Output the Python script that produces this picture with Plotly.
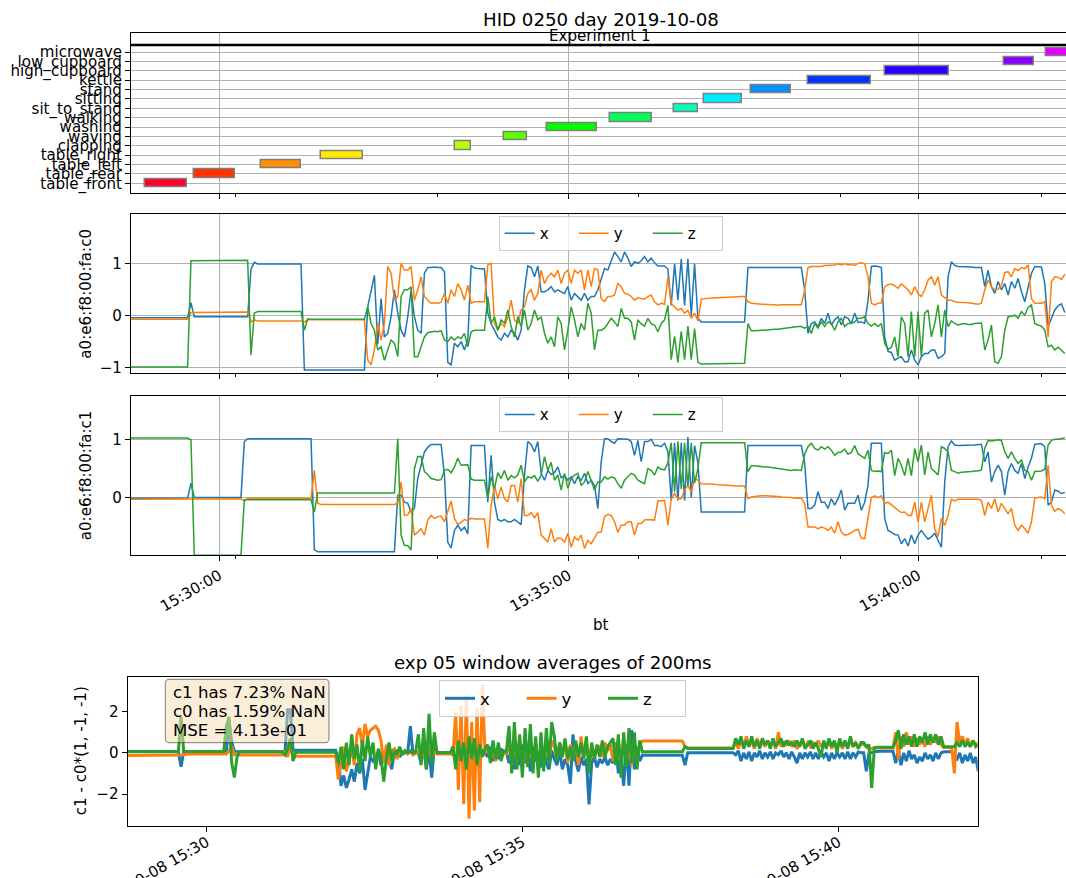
import pandas as pd
import plotly.graph_objects as go

FONT = "DejaVu Sans"
DAY = "2019-10-08"
W, H = 1066, 878

# ---------------- activity annotations (top panel) ----------------
activities = ["table_front", "table_rear", "table_left", "table_right", "clapping",
              "waving", "washing", "walking", "sit_to_stand", "sitting", "stand",
              "kettle", "high_cupboard", "low_cupboard", "microwave"]
act_start = ["15:28:56.0", "15:29:38.5", "15:30:36.0", "15:31:27.0", "15:33:22.0", "15:34:04.5",
             "15:34:41.0", "15:35:35.0", "15:36:30.0", "15:36:56.0", "15:37:36.0", "15:38:25.0",
             "15:39:31.0", "15:41:14.0", "15:41:50.0"]
act_end = ["15:29:32.0", "15:30:13.6", "15:31:10.0", "15:32:03.0", "15:33:36.0", "15:34:24.0",
           "15:35:24.0", "15:36:11.0", "15:36:51.0", "15:37:29.0", "15:38:11.0", "15:39:19.0",
           "15:40:26.0", "15:41:39.0", "15:42:20.0"]
act_colors = ["#ff0029", "#ff3200", "#ff8e00", "#ffea00", "#b8ff00", "#5cff00", "#00ff00",
              "#00ff5b", "#00ffb7", "#00ebff", "#0090ff", "#0033ff", "#2a00ff", "#8600ff",
              "#e200ff"]
exp_name = "Experiment 1"
exp_start = "15:28:44"
exp_end = "15:42:10"

# ---------------- accelerometer c0 / c1 (sampled every 2.863 s from 15:28:44.13) -------------
acc_t0 = "15:28:44.130"
acc_step = "2863ms"

c0_x = [
    -0.04, -0.04, -0.04, -0.04, -0.04, -0.04, -0.04, -0.04, -0.04, -0.04, -0.04, -0.04, -0.04, -0.04, -0.04, -0.04, -0.04, -0.04,
    0.25,
    -0.02, -0.02, -0.02, -0.02, -0.02, -0.02, -0.02, -0.02, -0.02, -0.02, -0.02, -0.02, -0.02, -0.02, -0.02, -0.02,
    -0.02, 0.9, 1.03, 1.0,
    1.0, 1.0, 1.0, 1.0, 1.0, 1.0, 1.0, 1.0, 1.0, 1.0, 1.0, 1.0, 1.0,
    -1.05,
    -1.05, -1.05, -1.05, -1.05, -1.05, -1.05, -1.05, -1.05, -1.05, -1.05, -1.05, -1.05, -1.05, -1.05, -1.05, -1.05, -1.05, -1.05,
    0.17, 0.5, 0.78, -0.55, 0.33, -0.41, -0.34, -0.02, 0.5, 0.05,
    -0.28, -0.41, -0.02, 0.5, -0.02, -0.28, -0.34, 0.82, 0.93, 0.93,
    0.94, 0.93, 0.93, 0.85, -0.9, -0.95, -0.53, -0.6, -0.5, -0.66,
    -0.47, 0.97, 0.92, 0.91, 0.9, 0.9, 0.05, -0.15, -0.28, -0.41,
    -0.47, -0.34, -0.41, -0.28, -0.34, -0.47, -0.28, 0.5, 0.96, 0.93,
    0.75, 0.96, 0.46, 0.46, 0.5, 0.56, 0.46, 0.5, 0.46, 0.43,
    0.56, 0.3, 0.43, 0.37, 0.3, 0.43, 0.3, 0.37, 0.37, 0.5,
    0.7, 0.91, 0.88, 1.07, 1.23, 1.14, 1.04, 1.23, 1.11, 0.95,
    1.04, 1.01, 1.06, 1.14, 1.04, 1.11, 1.02, 0.96, 0.96, 0.96,
    0.9, 0.2, 1.0, 0.3, 1.1, 0.2, 1.1, 0.0, 1.0, -0.05,
    -0.12, -0.12, -0.12, -0.12, -0.12, -0.12, -0.12, -0.12, -0.12, -0.12, -0.12, -0.12, -0.12, -0.12,
    0.93, 0.93, 0.93, 0.93, 0.93, 0.93, 0.93, 0.93, 0.93, 0.93, 0.93, 0.93, 0.93, 0.93, 0.93, 0.93, 0.93,
    0.5, -0.34, -0.15, -0.12, -0.21, -0.05, -0.15, 0.05, -0.18, -0.08,
    -0.02, -0.18, -0.02, -0.05, -0.15, 0.05, -0.13, -0.12, -0.15, 0.3,
    0.95, 0.96, 0.95, 0.93, -0.41, -0.69, -0.71, -0.86, -0.82, -0.79,
    -0.89, -0.89, -0.66, -0.86, -0.95, -0.79, -0.73, -0.73, -0.66, -0.66,
    -0.82, -0.79, -0.73, 0.75, 1.04, 0.97, 0.95, 0.95, 0.95, 0.94,
    0.94, 0.93, 0.93, 0.93, 0.56, 0.88, 0.56, 0.43, 0.66, 0.5,
    0.62, 0.4, 0.66, 0.53, 0.72, 0.46, 0.27, 0.53, 0.82, 0.95,
    0.95, 0.94, 0.62, -0.21, -0.05, 0.11, 0.19, 0.23, 0.06,
]
c0_y = [
    -0.07, -0.07, -0.07, -0.07, -0.07, -0.07, -0.07, -0.07, -0.07, -0.07, -0.07, -0.07, -0.07, -0.07, -0.07, -0.07, -0.07, -0.07,
    0.06,
    0.06, 0.06, 0.06, 0.06, 0.06, 0.06, 0.06, 0.06, 0.06, 0.06, 0.06, 0.06, 0.06, 0.06, 0.06, 0.06,
    0.07, -0.12, -0.08, -0.1,
    -0.1, -0.1, -0.1, -0.1, -0.1, -0.1, -0.1, -0.1, -0.1, -0.1, -0.1, -0.1, -0.1,
    -0.12,
    -0.08, -0.08, -0.08, -0.08, -0.08, -0.08, -0.08, -0.08, -0.08, -0.08, -0.08, -0.08, -0.08, -0.08, -0.08, -0.08, -0.08, -0.08,
    -0.85, -0.95, -0.66, -0.15, -0.47, -0.15, 0.95, 0.82, 0.3, 0.37,
    1.01, 0.88, 0.88, 0.95, 0.3, 0.5, 0.75, 0.37, 0.3, 0.24,
    0.25, 0.24, 0.26, 0.43, 0.24, 0.5, 0.37, 0.62, 0.5, 0.3,
    0.59, 0.24, 0.27, 0.27, 0.27, 0.27, 0.98, 1.01, -0.15, -0.28,
    -0.15, -0.21, -0.02, 0.3, -0.08, -0.15, 0.11, 0.17, 0.43, 0.5,
    0.3, 0.43, 0.88, 0.62, 0.75, 0.82, 0.75, 0.88, 0.62, 0.82,
    0.88, 0.62, 0.88, 0.82, 0.88, 0.5, 0.88, 0.56, 0.91, 0.88,
    0.33, 0.27, 0.37, 0.37, 0.4, 0.62, 0.56, 0.43, 0.42, 0.37,
    0.3, 0.35, 0.33, 0.32, 0.37, 0.4, 0.27, 0.21, 0.24, 0.22,
    0.75, 0.24, 0.17, 0.11, 0.14, 0.05, 0.1, -0.05, 0.05, -0.1,
    0.32, 0.33, 0.33, 0.34, 0.34, 0.35, 0.35, 0.35, 0.36, 0.36, 0.36, 0.37, 0.37, 0.37,
    0.27, 0.24, 0.23, 0.23, 0.22, 0.22, 0.21, 0.21, 0.21, 0.2, 0.21, 0.21, 0.21, 0.2, 0.21, 0.21, 0.21,
    0.5, 0.93, 0.95, 0.95, 0.96, 0.95, 0.97, 0.97, 0.98, 0.98,
    1.0, 0.98, 1.0, 0.98, 0.99, 0.97, 1.01, 1.02, 1.0, 0.75,
    0.24, 0.21, 0.24, 0.25, 0.56, 0.6, 0.61, 0.58, 0.53, 0.61,
    0.56, 0.5, 0.4, 0.56, 0.43, 0.37, 0.5, 0.69, 0.75, 0.59,
    0.75, 0.4, 0.35, 0.3, 0.3, 0.27, 0.26, 0.26, 0.25, 0.25,
    0.24, 0.23, 0.22, 0.24, 0.5, 0.69, 0.56, 0.5, 0.51, 0.59,
    0.83, 0.85, 0.75, 0.91, 0.87, 0.93, 0.91, 0.98, 0.33, 0.24,
    0.24, 0.24, 0.27, -0.41, 0.66, 0.75, 0.74, 0.7, 0.8,
]
c0_z = [
    -0.99, -0.99, -0.99, -0.99, -0.99, -0.99, -0.99, -0.99, -0.99, -0.99, -0.99, -0.99, -0.99, -0.99, -0.99, -0.99, -0.99, -0.99,
    1.06,
    1.06, 1.06, 1.06, 1.06, 1.06, 1.06, 1.06, 1.06, 1.06, 1.06, 1.06, 1.06, 1.06, 1.06, 1.06, 1.06,
    1.07, -0.76, 0.05, 0.08,
    0.08, 0.08, 0.08, 0.08, 0.08, 0.08, 0.08, 0.08, 0.08, 0.08, 0.08, 0.08, 0.08,
    -0.28,
    -0.06, -0.07, -0.07, -0.07, -0.07, -0.07, -0.07, -0.07, -0.07, -0.07, -0.07, -0.07, -0.07, -0.07, -0.07, -0.07, -0.07, -0.07,
    0.17, -0.15, -0.28, -0.66, -0.6, -0.86, -0.66, -0.47, -0.53, -0.79,
    0.37, 0.5, 0.5, 0.56, -0.79, -0.79, -0.6, -0.41, -0.33, -0.31,
    -0.3, -0.31, -0.29, -0.47, -0.5, -0.41, -0.47, -0.41, -0.44, -0.34,
    -0.6, -0.31, -0.28, -0.28, -0.28, -0.28, 0.37, -0.15, -0.02, -0.28,
    -0.08, -0.15, 0.11, -0.21, -0.41, -0.02, -0.21, 0.11, -0.28, -0.15,
    0.11, -0.08, -0.02, -0.34, -0.53, -0.41, -0.6, -0.02, -0.15, -0.66,
    -0.28, 0.17, -0.08, -0.41, -0.15, -0.28, 0.24, 0.05, -0.66, -0.28,
    -0.28, -0.24, -0.15, -0.05, -0.12, -0.21, 0.14, -0.05, -0.05, -0.12,
    -0.47, -0.08, -0.16, -0.2, -0.05, -0.16, -0.18, -0.31, -0.15, -0.08,
    0.2, -0.85, -0.4, -0.9, -0.3, -0.85, -0.2, -0.85, -0.25, -0.9,
    -0.93, -0.93, -0.93, -0.93, -0.93, -0.93, -0.93, -0.93, -0.93, -0.93, -0.93, -0.93, -0.93, -0.92,
    -0.15, -0.29, -0.29, -0.28, -0.28, -0.28, -0.27, -0.27, -0.26, -0.26, -0.25, -0.24, -0.23, -0.22, -0.22, -0.21, -0.21,
    -0.24, -0.21, -0.34, -0.15, -0.24, -0.12, -0.21, -0.12, -0.15, -0.28,
    -0.12, -0.05, -0.21, -0.15, -0.15, -0.12, -0.05, -0.05, -0.02, -0.15,
    -0.2, -0.15, -0.21, -0.15, -0.53, -0.65, -0.61, -0.41, -0.79, -0.02,
    -0.15, -0.79, 0.08, -0.79, 0.08, -0.79, 0.05, 0.11, -0.41, -0.15,
    0.21, -0.41, 0.11, -0.21, -0.1, -0.15, -0.18, -0.16, -0.15, -0.17,
    -0.17, -0.15, -0.15, -0.14, -0.66, -0.47, -0.18, -0.89, -0.92, -0.79,
    -0.28, -0.02, -0.01, 0.01, -0.05, 0.08, 0.01, 0.16, 0.21, -0.15,
    -0.18, -0.2, -0.28, -0.6, -0.57, -0.66, -0.61, -0.68, -0.73,
]

c1_x = [
    -0.01, -0.01, -0.01, -0.01, -0.01, -0.01, -0.01, -0.01, -0.01, -0.01, -0.01, -0.01, -0.01, -0.01, -0.01, -0.01, -0.01, -0.01,
    0.25,
    0.0, 0.0, 0.0, 0.0, 0.0, 0.0, 0.0, 0.0, 0.0, 0.0, 0.0, 0.0, 0.0, 0.0, 0.0,
    0.97, 1.02,
    1.02, 1.02, 1.02, 1.02, 1.02, 1.02, 1.02, 1.02, 1.02, 1.02, 1.02, 1.02, 1.02, 1.02, 1.02, 1.02, 1.02, 1.02, 1.02,
    -0.9, -0.94,
    -0.94, -0.94, -0.94, -0.94, -0.94, -0.94, -0.94, -0.94, -0.94, -0.94, -0.94, -0.94, -0.94, -0.94, -0.94, -0.94, -0.94, -0.94, -0.94, -0.94, -0.94, -0.94, -0.94,
    0.04, 0.04, -0.08, -0.1, -0.25, -0.19, 0.33, 0.59, 0.79, 0.87,
    0.92, 0.92, 0.92, 0.92, 0.39, -0.77, -0.87, -0.57, -0.48, -0.57,
    -0.51, -0.63, 0.9, 0.9, 0.9, 0.9, 0.9, -0.08, 0.73, -0.08,
    -0.38, -0.41, -0.38, -0.42, -0.42, -0.38, -0.43, -0.47, 0.39, 0.97,
    0.92, 0.79, 0.97, 0.42, 0.3, 0.47, 0.4, 0.43, 0.53, 0.34,
    0.38, 0.3, 0.36, 0.24, 0.36, 0.3, 0.42, 0.24, 0.3, 0.21,
    -0.19, 0.62, 1.02, 1.02, 0.97, 0.94, 1.02, 1.02, 1.02, 1.01,
    0.97, 0.73, 0.99, 0.62, 0.97, 0.97, 1.01, 0.9, 0.9, 0.88,
    0.94, 0.8, -0.05, 0.95, -0.05, 0.95, -0.05, 1.05, 0.0, 0.9,
    0.6,
    -0.25, -0.25, -0.25, -0.25, -0.25, -0.25, -0.25, -0.25, -0.25, -0.25, -0.25, -0.25, -0.25, -0.25,
    0.9, 0.9, 0.9, 0.9, 0.9, 0.9, 0.9, 0.9, 0.9, 0.9, 0.9, 0.9, 0.9, 0.9, 0.9, 0.9, 0.9,
    0.6, -0.19, -0.19, -0.13, 0.1, -0.08, -0.08, -0.19, -0.02, -0.13,
    -0.02, 0.13, -0.22, -0.1, -0.1, -0.1, 0.04, -0.22, -0.08, 0.21,
    0.94, 0.94, 0.94, 0.94, -0.36, -0.57, -0.6, -0.64, -0.65, -0.8,
    -0.71, -0.84, -0.65, -0.8, -0.65, -0.57, -0.65, -0.72, -0.68, -0.62,
    -0.74, -0.86, 0.27, 0.88, 0.98, 0.91, 0.9, 0.9, 0.9, 0.91,
    0.91, 0.91, 0.92, 0.92, 0.62, 0.79, 0.27, 0.45, 0.56, 0.45,
    0.04, 0.45, 0.59, 0.47, 0.42, 0.59, 0.33, 0.53, 0.68, 0.92,
    0.93, 0.93, 0.88, -0.13, -0.08, 0.13, 0.11, 0.07, 0.09,
]
c1_y = [
    -0.03, -0.03, -0.03, -0.03, -0.03, -0.03, -0.03, -0.03, -0.03, -0.03, -0.03, -0.03, -0.03, -0.03, -0.03, -0.03, -0.03, -0.03,
    -0.03,
    -0.02, -0.02, -0.02, -0.02, -0.02, -0.02, -0.02, -0.02, -0.02, -0.02, -0.02, -0.02, -0.02, -0.02, -0.02,
    -0.06, -0.01,
    -0.01, -0.01, -0.01, -0.01, -0.01, -0.01, -0.01, -0.01, -0.01, -0.01, -0.01, -0.01, -0.01, -0.01, -0.01, -0.01, -0.01, -0.01, -0.01,
    0.47, -0.1,
    -0.12, -0.12, -0.12, -0.12, -0.12, -0.12, -0.12, -0.12, -0.12, -0.12, -0.12, -0.12, -0.12, -0.12, -0.12, -0.12, -0.12, -0.12, -0.12, -0.12, -0.12, -0.12, -0.12,
    -0.1, 0.27, -0.31, -0.3, -0.19, -0.65, -0.6, -0.54, -0.65, -0.39,
    -0.31, -0.36, -0.33, -0.32, -0.42, -0.22, -0.06, -0.36, -0.47, -0.43,
    -0.38, -0.4, -0.36, -0.37, -0.37, -0.37, -0.37, -0.88, -0.13, 0.21,
    -0.02, 0.18, -0.02, -0.08, 0.21, 0.21, -0.08, 0.33, -0.31, -0.31,
    -0.26, -0.35, -0.26, -0.65, -0.71, -0.77, -0.54, -0.77, -0.7, -0.71,
    -0.77, -0.62, -0.86, -0.68, -0.74, -0.65, -0.88, -0.74, -0.8, -0.71,
    -0.6, -0.6, -0.33, -0.29, -0.31, -0.42, -0.6, -0.48, -0.48, -0.42,
    -0.42, -0.65, -0.45, -0.45, -0.39, -0.38, -0.38, -0.39, -0.06, -0.05,
    -0.05, -0.48, -0.03, 0.07, -0.02, -0.02, 0.13, 0.21, 0.1, 0.33,
    0.3,
    0.24, 0.24, 0.24, 0.23, 0.23, 0.22, 0.22, 0.22, 0.21, 0.21, 0.2, 0.2, 0.2, 0.2,
    -0.02, 0.01, 0.02, 0.03, 0.03, 0.03, 0.03, 0.03, 0.02, 0.02, 0.01, 0.01, 0.0, 0.0, -0.01, -0.01, -0.01,
    -0.1, -0.51, -0.51, -0.51, -0.54, -0.51, -0.53, -0.57, -0.51, -0.62,
    -0.42, -0.6, -0.65, -0.64, -0.61, -0.57, -0.55, -0.7, -0.71, -0.36,
    0.0, 0.03, 0.0, 0.03, -0.1, -0.08, -0.12, -0.17, -0.22, -0.26,
    -0.25, -0.31, -0.31, -0.08, -0.42, -0.08, -0.42, -0.19, 0.04, -0.54,
    -0.68, -0.36, -0.48, -0.31, -0.03, -0.06, -0.03, -0.03, -0.03, -0.02,
    -0.02, -0.03, -0.03, -0.05, -0.31, -0.08, -0.19, -0.02, -0.25, -0.1,
    -0.18, -0.28, -0.19, -0.48, -0.57, -0.48, -0.54, -0.62, -0.42, -0.01,
    0.0, 0.01, -0.02, 0.56, -0.13, -0.24, -0.19, -0.22, -0.28,
]
c1_z = [
    1.03, 1.03, 1.03, 1.03, 1.03, 1.03, 1.03, 1.03, 1.03, 1.03, 1.03, 1.03, 1.03, 1.03, 1.03, 1.03, 1.03, 1.03,
    1.0,
    -1.0, -1.0, -1.0, -1.0, -1.0, -1.0, -1.0, -1.0, -1.0, -1.0, -1.0, -1.0, -1.0, -1.0, -1.0,
    -0.04, -0.04,
    -0.04, -0.04, -0.04, -0.04, -0.04, -0.04, -0.04, -0.04, -0.04, -0.04, -0.04, -0.04, -0.04, -0.04, -0.04, -0.04, -0.04, -0.04, -0.04,
    -0.25, 0.08,
    0.08, 0.08, 0.08, 0.08, 0.08, 0.08, 0.08, 0.08, 0.08, 0.08, 0.08, 0.08, 0.08, 0.08, 0.08, 0.08, 0.08, 0.08, 0.08, 0.08, 0.08, 0.08, 0.08,
    1.02, -0.65, -0.83, -0.83, -0.91, 0.5, 0.71, 0.71, 0.45, 0.4,
    0.33, 0.31, 0.3, 0.31, 0.47, 0.49, 0.43, 0.53, 0.68, 0.56,
    0.56, 0.57, 0.32, 0.3, 0.3, 0.3, 0.3, -0.02, 0.36, 0.16,
    0.43, 0.33, 0.47, 0.3, 0.38, 0.34, 0.39, 0.56, 0.27, 0.36,
    0.34, 0.38, 0.28, 0.39, 0.71, 0.47, 0.61, 0.3, 0.39, 0.13,
    0.42, 0.16, 0.33, 0.39, 0.42, 0.21, 0.27, 0.45, 0.27, 0.13,
    0.27, 0.27, 0.36, 0.32, 0.36, 0.34, 0.24, 0.16, 0.3, 0.36,
    0.42, 0.39, 0.3, 0.27, 0.24, 0.5, 0.47, 0.39, 0.53, 0.49,
    0.48, 0.6, 0.95, 0.1, 0.97, 0.15, 0.95, 0.2, 0.95, 0.25,
    0.5,
    0.95, 0.95, 0.95, 0.95, 0.95, 0.95, 0.95, 0.95, 0.95, 0.95, 0.95, 0.95, 0.95, 0.95,
    0.45, 0.55, 0.55, 0.54, 0.54, 0.53, 0.53, 0.52, 0.52, 0.51, 0.5, 0.49, 0.48, 0.47, 0.48, 0.47, 0.47,
    0.75, 0.88, 0.94, 0.85, 0.82, 0.88, 0.84, 0.88, 0.82, 0.73,
    0.78, 0.79, 0.84, 0.75, 0.78, 0.9, 0.76, 0.72, 0.68, 0.82,
    0.47, 0.45, 0.46, 0.45, 0.78, 0.76, 0.82, 0.38, 0.68, 0.56,
    0.38, 0.68, 0.38, 0.85, 0.62, 0.91, 0.39, 0.79, 0.5, 0.45,
    0.39, 0.88, 0.85, 0.79, 0.47, 0.45, 0.42, 0.44, 0.44, 0.45,
    0.45, 0.46, 0.46, 0.48, 0.85, 0.99, 0.98, 0.99, 1.0, 0.99,
    0.79, 0.68, 0.79, 0.68, 0.59, 0.65, 0.47, 0.45, 0.3, 0.45,
    0.45, 0.46, 0.49, 0.91, 0.99, 1.01, 1.01, 1.02, 1.03,
]

# ---------------- exp 05 difference c1 - c0*(1,-1,-1) (every 2.532 s from 15:28:45) ----------
diff_t0 = "15:28:45.000"
diff_step = "2532ms"

d_x = [
    0.06, 0.06, 0.06, 0.06, 0.06, 0.06, 0.06, 0.06, 0.06, 0.06, 0.06, 0.06, 0.06, 0.06, 0.06, 0.06, 0.06, 0.06, 0.06, 0.06,
    -0.68, 0.05,
    0.05, 0.05, 0.05, 0.05, 0.05, 0.05, 0.05, 0.05, 0.05, 0.05, 0.05, 0.05, 0.05, 0.05, 0.05,
    0.05, 1.6, 0.5, 0.1, 0.05,
    0.05, 0.05, 0.05, 0.05, 0.05, 0.05, 0.05, 0.05, 0.05, 0.05, 0.05, 0.05, 0.05, 0.05, 0.05, 0.05, 0.05,
    0.05, 2.1, 2.1, 0.13,
    0.13, 0.13, 0.13, 0.13, 0.13, 0.13, 0.13, 0.13, 0.13, 0.13, 0.13, 0.13, 0.13, 0.13, 0.13, 0.13,
    -0.3,
    -1.6, -1.1, -1.7, -1.3, -0.8, -1.4, -0.5, -1.0, -0.3, -1.8, -0.9, -0.2, -0.4, -0.3, 0.1, -0.6, -0.2, 0.1, -0.3, -0.8,
    0.05, 0.1, -0.2, 0.05, 0.0, 0.03, 1.3, -0.1, 0.0,
    0.0, -0.5, 0.3, -0.8, 0.2, -1.2, 0.3, 0.0,
    0.02, 0.02, 0.02, 0.02, 0.02,
    0.0, -0.3, 0.2, -0.4, 0.3, -0.2, 0.1, 0.4, -0.3, 0.2, -0.2, 0.1,
    0.0, -0.2, 0.3, -0.4, 0.1, -0.3, 0.2, 0.0, 0.05,
    -0.5, 0.3, -0.8, 0.2, -0.6, 0.4, -0.5, 0.1, -0.9, 0.3, -0.4, -0.2, -0.7, 0.2, -0.5, -0.8, 0.1,
    -0.3, -0.6, 0.1, -0.8, -0.3, -0.6, -1.5, 0.9, -0.4, -0.9, -0.2, -0.6, -0.3, -2.5, -0.5, -0.2, -0.7,
    -0.3, -0.5, -0.2, -0.6, -0.3, -0.5, 0.5, -1.0, -0.2, -1.6, 0.4, -1.6, 1.1, -0.8, 0.3, -0.4,
    -0.12, -0.12, -0.12, -0.12, -0.12, -0.12, -0.12, -0.12, -0.12, -0.12, -0.12, -0.12, -0.12, -0.12, -0.12, -0.12,
    -0.6,
    0.0, 0.0, 0.0, 0.0, 0.0, 0.0, 0.0, 0.0, 0.0, 0.0, 0.0, 0.0, 0.0, 0.0, 0.0, 0.0, 0.0, 0.0,
    -0.1,
    0.1, -0.4, 0.0, -0.3, 0.05, -0.4, 0.0, -0.2, 0.1, -0.3, 0.0, -0.2, 0.05, -0.3, 0.0, -0.1,
    0.1, -0.2, 0.0, -0.3, 0.05, -0.2, -0.5, 0.0, -0.3, 0.0, -0.2, 0.05, -0.3, 0.0, -0.3, 0.05,
    -0.2, 0.0, -0.4, 0.0, -0.3, 0.0, -0.2, 0.0, -0.3, 0.05, -0.3, 0.0, -0.2, 0.05, 0.0,
    0.0, -0.9, 0.0, 0.0, 0.05,
    0.08, 0.08, 0.08, 0.08, 0.08, 0.08, 0.08,
    -0.5, 0.1, -0.6, 0.0, -0.4, 0.1, -0.3, -0.1, -0.5, -0.2, -0.4, 0.0, -0.3, -0.1, -0.4, 0.0, -0.3, 0.0,
    0.05, 0.05, 0.05, 0.05,
    -0.2, -0.3, 0.0, -0.5, -0.1, -0.4, 0.0, -0.5, -0.2, -0.9,
]
d_y = [
    -0.13, -0.13, -0.13, -0.13, -0.13, -0.13, -0.13, -0.13, -0.13, -0.13, -0.13, -0.13, -0.13, -0.13, -0.13, -0.13, -0.13, -0.13, -0.13, -0.13,
    -0.1, -0.08,
    -0.06, -0.06, -0.06, -0.06, -0.06, -0.06, -0.06, -0.06, -0.06, -0.06, -0.06, -0.06, -0.06, -0.06, -0.06,
    -0.05, 0.1, 0.3, -0.1, -0.05,
    -0.1, -0.1, -0.1, -0.1, -0.1, -0.1, -0.1, -0.1, -0.1, -0.1, -0.1, -0.1, -0.1, -0.1, -0.1, -0.1, -0.1,
    0.1, -0.2, 0.6, -0.3,
    -0.16, -0.16, -0.16, -0.16, -0.16, -0.16, -0.16, -0.16, -0.16, -0.16, -0.16, -0.16, -0.16, -0.16, -0.16, -0.16,
    -1.3,
    -0.5, 0.3, -0.9, -0.4, 0.2, -0.6, 0.9, 1.2, 0.3, 1.4, 0.8, 1.1, 1.2, 1.3, 1.1, 0.6, -0.5, 0.4, -0.6, 0.1,
    0.2, -0.3, 0.1, 0.0, 0.1, -0.05, 0.05, -0.1, 0.02,
    0.0, 0.2, -0.2, 0.1, 0.2, -0.3, 0.1, -0.05,
    -0.05, -0.05, -0.05, -0.05, -0.05,
    -0.1, 2.0, -1.8, 2.3, -2.5, 2.8, -3.2, 1.5, -2.8, 2.2, -2.4, 3.3,
    0.0, 0.1, -0.2, 0.1, -0.4, 0.2, -0.1, 0.0, -0.05,
    0.5, -0.6, 0.4, -0.3, 0.7, -0.8, 0.3, -0.5, 0.6, -0.4, 0.5, -0.6, 0.4, -0.3, 0.8, -0.4, 0.6,
    0.3, -0.3, 0.5, -0.2, 0.6, -0.5, 0.4, -0.3, 0.5, -0.6, 0.8, -0.2, 0.6, -0.4, 0.4, -0.3, 0.2,
    0.3, -0.2, 0.5, 0.1, 0.4, -0.4, 0.3, 0.6, -0.5, 0.7, -0.2, 0.3, -0.6, 0.5, -0.3, 0.4,
    0.57, 0.57, 0.57, 0.57, 0.57, 0.57, 0.57, 0.57, 0.57, 0.57, 0.57, 0.57, 0.57, 0.57, 0.57, 0.57,
    0.3,
    0.24, 0.24, 0.24, 0.24, 0.24, 0.24, 0.24, 0.24, 0.24, 0.24, 0.24, 0.24, 0.24, 0.24, 0.24, 0.24, 0.24, 0.24,
    0.5,
    0.2, 0.6, 0.3, 0.8, 0.3, 0.6, 0.2, 0.7, 0.4, 0.5, 0.3, 0.6, 0.3, 0.6, 0.2, 1.0,
    0.3, 0.5, 0.4, 0.6, 0.3, 0.6, 0.2, 0.4, 0.6, 0.3, 0.5, 0.3, 0.5, 0.4, 0.6, 0.3,
    0.5, 0.3, 0.6, 0.2, 0.5, 0.3, 0.6, 0.2, 0.5, 0.3, 0.6, 0.3, 0.5, 0.3, 0.4,
    0.4, 0.3, 0.2, 0.2, 0.25,
    0.24, 0.24, 0.24, 0.24, 0.24, 0.24, 0.24,
    1.0, -0.3, 0.8, 0.3, 1.0, 0.4, 0.8, 0.3, 0.7, 0.4, 0.6, 0.3, 0.8, 0.4, 0.7, 0.5, 0.8, 0.4,
    0.26, 0.26, 0.26, 0.26,
    -1.0, 1.5, 0.5, 0.8, 0.4, 0.7, 0.3, 0.6, 0.4, 0.5,
]
d_z = [
    0.05, 0.05, 0.05, 0.05, 0.05, 0.05, 0.05, 0.05, 0.05, 0.05, 0.05, 0.05, 0.05, 0.05, 0.05, 0.05, 0.05, 0.05, 0.05, 0.05,
    1.75, 0.08,
    0.06, 0.06, 0.06, 0.06, 0.06, 0.06, 0.06, 0.06, 0.06, 0.06, 0.06, 0.06, 0.06, 0.06, 0.06,
    1.3, 1.75, -0.5, -1.2, -0.2,
    0.05, 0.05, 0.05, 0.05, 0.05, 0.05, 0.05, 0.05, 0.05, 0.05, 0.05, 0.05, 0.05, 0.05, 0.05, 0.05, 0.05,
    -0.1, 0.2, 0.7, -0.4,
    0.03, 0.03, 0.03, 0.03, 0.03, 0.03, 0.03, 0.03, 0.03, 0.03, 0.03, 0.03, 0.03, 0.03, 0.03, 0.03,
    -0.5,
    0.3, -0.8, 0.5, -0.6, 0.9, -0.3, 0.4, -0.9, 0.6, -0.4, 0.8, -0.2, 0.5, -0.8, 0.2, -0.2, -1.4, -0.3, 0.5, -0.4,
    0.1, -0.1, 0.3, -0.1, 0.1, 0.0, 0.1, 0.0, 0.05,
    0.9, -0.6, 1.2, -0.8, 1.9, -0.5, 1.0, 0.0,
    0.0, 0.0, 0.0, 0.0, 0.0,
    0.3, -0.8, 0.6, -0.4, 0.5, -0.8, 0.8, -0.3, 0.7, -0.6, 0.4, -0.2,
    0.2, 0.4, -0.5, 0.6, -0.3, 0.5, -0.4, 0.1, 0.05,
    1.3, -1.0, 1.5, -0.8, 0.9, -1.2, 1.2, -0.7, 1.4, -1.0, 0.8, -1.2, 1.0, -0.9, 1.2, -0.6, 1.5,
    0.8, -0.4, 0.5, -0.2, 0.7, -0.3, 0.3, -0.4, 0.6, -0.2, 0.5, -0.3, 0.8, -1.0, 0.5, -0.3, 0.4,
    -0.2, 0.6, -0.2, 0.3, 0.5, 0.7, -0.6, 0.9, -1.2, 1.0, -0.7, 1.2, -0.5, 1.0, -0.8, 0.6,
    0.05, 0.05, 0.05, 0.05, 0.05, 0.05, 0.05, 0.05, 0.05, 0.05, 0.05, 0.05, 0.05, 0.05, 0.05, 0.05,
    0.3,
    0.21, 0.21, 0.21, 0.21, 0.21, 0.21, 0.21, 0.21, 0.21, 0.21, 0.21, 0.21, 0.21, 0.21, 0.21, 0.21, 0.21, 0.21,
    0.7,
    0.4, 0.8, 0.2, 0.6, 0.3, 0.8, 0.3, 0.6, 0.2, 0.7, 0.4, 0.6, 0.2, 0.7, 0.3, 0.5,
    0.7, 0.3, 0.6, 0.4, 0.5, 0.3, 0.6, 0.3, 0.7, 0.2, 0.4, 0.6, 0.2, 0.5, 0.2, -0.2,
    0.6, 0.2, 0.7, 0.3, 0.6, 0.0, 0.7, 0.3, 0.6, 0.2, 0.8, 0.3, 0.5, 0.2, 0.5,
    0.5, 0.3, 0.4, -1.7, 0.25,
    0.27, 0.27, 0.27, 0.27, 0.27, 0.27, 0.27,
    0.6, 1.1, 0.2, 0.9, 0.4, 0.8, 0.3, 0.9, 0.3, 0.8, 0.5, 1.0, 0.4, 0.9, 0.5, 0.9, 0.4, 0.8,
    0.3, 0.3, 0.3, 0.3,
    0.3, 0.5, 0.3, 0.6, 0.3, 0.5, 0.3, 0.6, 0.3, 0.4,
]

textbox_lines = ["c1 has 7.23% NaN", "c0 has 1.59% NaN", "MSE = 4.13e-01"]

# ---------------- build ----------------
for arr in (c0_x, c0_y, c0_z, c1_x, c1_y, c1_z):
    assert len(arr) == len(c0_x), len(arr)
for arr in (d_x, d_y, d_z):
    assert len(arr) == len(d_x), len(arr)

t_acc = pd.date_range(f"{DAY} {acc_t0}", periods=len(c0_x), freq=acc_step)
t_diff = pd.date_range(f"{DAY} {diff_t0}", periods=len(d_x), freq=diff_step)

TAB = {"x": "#1f77b4", "y": "#ff7f0e", "z": "#2ca02c"}

fig = go.Figure()

# activity bars
a_s = pd.to_datetime([f"{DAY} {s}" for s in act_start], format="ISO8601")
a_e = pd.to_datetime([f"{DAY} {s}" for s in act_end], format="ISO8601")
dur_ms = [(e - s).total_seconds() * 1000 for s, e in zip(a_s, a_e)]
fig.add_trace(go.Bar(
    orientation="h", y=list(range(len(activities))), x=dur_ms,
    base=[s.strftime("%Y-%m-%d %H:%M:%S.%f") for s in a_s],
    width=0.9, marker=dict(color=act_colors, line=dict(color="#7f7f7f", width=1.5)),
    xaxis="x", yaxis="y", showlegend=False, hoverinfo="skip"))

e_s = pd.Timestamp(f"{DAY} {exp_start}")
e_e = pd.Timestamp(f"{DAY} {exp_end}")
exp_y = len(activities) - 0.25
fig.add_trace(go.Scatter(x=[e_s, e_e], y=[exp_y, exp_y], mode="lines",
                         line=dict(color="black", width=2.6), xaxis="x", yaxis="y",
                         showlegend=False, hoverinfo="skip"))
e_mid = e_s + (e_e - e_s) / 2
fig.add_trace(go.Scatter(x=[e_mid], y=[exp_y], mode="markers",
                         marker=dict(color="black", size=3), xaxis="x", yaxis="y",
                         showlegend=False, hoverinfo="skip"))

for name, arr in (("x", c0_x), ("y", c0_y), ("z", c0_z)):
    fig.add_trace(go.Scatter(x=t_acc, y=arr, mode="lines", name=name,
                             line=dict(color=TAB[name], width=1.5),
                             xaxis="x2", yaxis="y2", legend="legend", hoverinfo="skip"))
for name, arr in (("x", c1_x), ("y", c1_y), ("z", c1_z)):
    fig.add_trace(go.Scatter(x=t_acc, y=arr, mode="lines", name=name,
                             line=dict(color=TAB[name], width=1.5),
                             xaxis="x3", yaxis="y3", legend="legend2", hoverinfo="skip"))
for name, arr in (("x", d_x), ("y", d_y), ("z", d_z)):
    fig.add_trace(go.Scatter(x=t_diff, y=arr, mode="lines", name=name,
                             line=dict(color=TAB[name], width=3),
                             xaxis="x4", yaxis="y4", legend="legend3", hoverinfo="skip"))

# ---------------- layout ----------------
def fy(p):
    return 1 - p / H

tick_font = dict(family=FONT, size=15.1, color="black")
major = [f"{DAY} 15:30:00", f"{DAY} 15:35:00", f"{DAY} 15:40:00"]
minor_ticks = [f"{DAY} 15:30:14", f"{DAY} 15:33:07", f"{DAY} 15:36:00",
               f"{DAY} 15:38:53", f"{DAY} 15:41:46"]
xr_main = [f"{DAY} 15:28:44.2", f"{DAY} 15:42:06.8"]
xr_diff = [f"{DAY} 15:28:45.0", f"{DAY} 15:42:12.1"]

base_ax = dict(showline=True, linecolor="black", linewidth=1.1, ticks="outside",
               tickcolor="black", tickwidth=1.1, ticklen=5, tickfont=tick_font,
               zeroline=False, automargin=False, gridcolor="#b0b0b0", gridwidth=1.1)

def main_x(anchor, labels):
    d = dict(base_ax, type="date", domain=[131 / W, 1.0], anchor=anchor, range=xr_main,
             tickmode="array", tickvals=major, showgrid=True, mirror=True,
             minor=dict(tickmode="array", tickvals=minor_ticks, ticks="outside", ticklen=3,
                        tickcolor="black", tickwidth=1.1, showgrid=False))
    if labels:
        d.update(ticktext=[m[-8:] for m in major], tickangle=-30, showticklabels=True)
    else:
        d.update(showticklabels=False)
    return d

fig.update_layout(
    width=W, height=H, margin=dict(l=0, r=0, t=0, b=0),
    paper_bgcolor="white", plot_bgcolor="white", hovermode=False,
    font=dict(family=FONT, size=15.1, color="black"),
    bargap=0,
    xaxis=main_x("y", False),
    xaxis2=main_x("y2", False),
    xaxis3=main_x("y3", True),
    xaxis4=dict(base_ax, type="date", domain=[127.7 / W, 977.7 / W], anchor="y4",
                range=xr_diff, tickmode="array", tickvals=major,
                ticktext=[m[:16] for m in major], tickangle=-30, ticklabelstandoff=-4,
                showgrid=False, mirror=True),
    yaxis=dict(base_ax, domain=[fy(192.7), fy(33.3)], anchor="x", range=[-1, 16],
               tickmode="array", tickvals=list(range(len(activities))), ticktext=activities,
               showgrid=True, mirror=False),
    yaxis2=dict(base_ax, domain=[fy(373), fy(214.3)], anchor="x2", range=[-1.106, 1.957],
                tickmode="array", tickvals=[-1, 0, 1], showgrid=True, mirror=False),
    yaxis3=dict(base_ax, domain=[fy(555), fy(395.7)], anchor="x3", range=[-0.995, 1.764],
                tickmode="array", tickvals=[0, 1], showgrid=True, mirror=False),
    yaxis4=dict(base_ax, domain=[fy(825.7), fy(676.7)], anchor="x4", range=[-3.54, 3.70],
                tickmode="array", tickvals=[-2, 0, 2], showgrid=False, mirror=True),
)

leg_common = dict(orientation="h", xanchor="left", yanchor="top",
                  bgcolor="rgba(255,255,255,0.8)", bordercolor="#cccccc", borderwidth=1,
                  entrywidthmode="pixels", itemclick=False, itemdoubleclick=False)
fig.update_layout(
    legend=dict(leg_common, x=498.7 / W, y=fy(216), entrywidth=29,
                font=dict(family=FONT, size=15.1)),
    legend2=dict(leg_common, x=498.7 / W, y=fy(397.2), entrywidth=29,
                 font=dict(family=FONT, size=15.1)),
    legend3=dict(leg_common, x=439 / W, y=fy(680), entrywidth=36.5,
                 font=dict(family=FONT, size=16.6)),
)

ann = []
ann.append(dict(text=f"HID 0250 day {DAY}", x=601 / W, y=fy(19), xref="paper", yref="paper",
                xanchor="center", yanchor="middle", showarrow=False,
                font=dict(family=FONT, size=18.2)))
ann.append(dict(text=exp_name, x=e_mid, y=exp_y, xref="x", yref="y", xanchor="center",
                yanchor="bottom", showarrow=False, font=dict(family=FONT, size=15.1),
                yshift=-2))
ann.append(dict(text="a0:e6:f8:00:fa:c0", x=86 / W, y=fy(293.7), xref="paper", yref="paper",
                textangle=-90, xanchor="center", yanchor="middle", showarrow=False,
                font=dict(family=FONT, size=15.1)))
ann.append(dict(text="a0:e6:f8:00:fa:c1", x=86 / W, y=fy(475.3), xref="paper", yref="paper",
                textangle=-90, xanchor="center", yanchor="middle", showarrow=False,
                font=dict(family=FONT, size=15.1)))
ann.append(dict(text="bt", x=601 / W, y=fy(625), xref="paper", yref="paper",
                xanchor="center", yanchor="middle", showarrow=False,
                font=dict(family=FONT, size=15.1)))
ann.append(dict(text="exp 05 window averages of 200ms", x=552.7 / W, y=fy(662), xref="paper",
                yref="paper", xanchor="center", yanchor="middle", showarrow=False,
                font=dict(family=FONT, size=18.2)))
ann.append(dict(text="c1 - c0*(1, -1, -1)", x=81 / W, y=fy(751.2), xref="paper", yref="paper",
                textangle=-90, xanchor="center", yanchor="middle", showarrow=False,
                font=dict(family=FONT, size=15.1)))
for i, line in enumerate(textbox_lines):
    ann.append(dict(text=line, x=170.7 / W, y=fy(692.5 + 18.8 * i), xref="paper", yref="paper",
                    xanchor="left", yanchor="middle", showarrow=False, align="left",
                    font=dict(family=FONT, size=16.6)))
fig.update_layout(annotations=ann)

# rounded text box behind the three text lines
bx0, bx1, by0, by1, r = 165.3, 329.0, 679.3, 742.7, 4.0
def P(x, y):
    return f"{x / W:.5f},{fy(y):.5f}"
path = (f"M {P(bx0 + r, by0)} L {P(bx1 - r, by0)} Q {P(bx1, by0)} {P(bx1, by0 + r)} "
        f"L {P(bx1, by1 - r)} Q {P(bx1, by1)} {P(bx1 - r, by1)} "
        f"L {P(bx0 + r, by1)} Q {P(bx0, by1)} {P(bx0, by1 - r)} "
        f"L {P(bx0, by0 + r)} Q {P(bx0, by0)} {P(bx0 + r, by0)} Z")
fig.update_layout(shapes=[dict(type="path", path=path, xref="paper", yref="paper",
                               fillcolor="rgba(245,222,179,0.5)",
                               line=dict(color="rgba(0,0,0,0.5)", width=1), layer="above")])

fig.write_html("out.html", config={"displayModeBar": False},
               post_script="document.body.style.margin='0';"
                           "document.body.style.padding='0';"
                           "document.body.style.overflow='hidden';")
